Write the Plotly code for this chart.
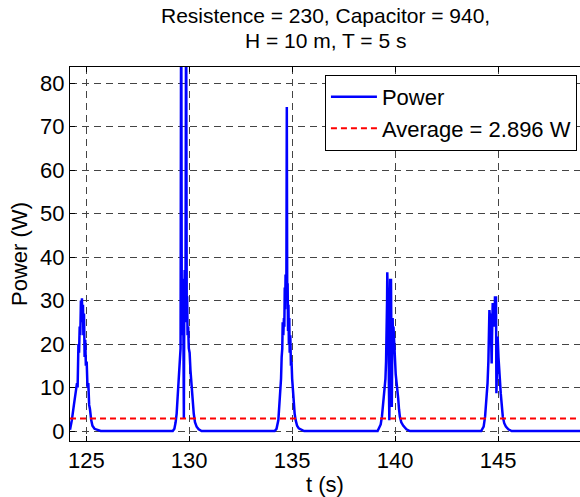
import plotly.graph_objects as go

# Pulse samples (time in s, power in W)
t_pulse1 = [124.21, 124.30, 124.40, 124.50, 124.55, 124.58, 124.62, 124.65, 124.68, 124.71,
            124.74, 124.77, 124.79, 124.81, 124.84, 124.86, 124.89, 124.92, 124.95, 124.98,
            125.02, 125.06, 125.10, 125.14, 125.18, 125.24, 125.30, 125.40, 125.55, 125.70]
p_pulse1 = [0.3, 2.5, 6, 9, 11, 10, 20, 18, 24, 22,
            30, 27, 30.5, 25, 29, 22, 27, 17, 21, 15,
            16, 10, 11, 6, 5, 2.5, 1.2, 0.5, 0.2, 0]

t_pulse2 = [129.20, 129.28, 129.34, 129.39, 129.44, 129.47, 129.50, 129.52, 129.55, 129.58,
            129.61, 129.64, 129.66, 129.68, 129.70, 129.72, 129.74, 129.76, 129.78, 129.80,
            129.82, 129.85, 129.88, 129.90, 129.92, 129.95, 129.98, 130.02, 130.06, 130.10,
            130.14, 130.18, 130.22, 130.28, 130.36, 130.46, 130.60]
p_pulse2 = [0, 0.5, 2, 4, 8, 11, 12, 14, 17, 19,
            110, 22, 30, 24, 35, 21, 3, 28, 37, 25,
            33, 105, 26, 31, 22, 24, 19, 18, 14, 11,
            8, 6, 4, 2, 1, 0.4, 0]

t_pulse3 = [134.15, 134.24, 134.33, 134.38, 134.42, 134.46, 134.49, 134.52, 134.54, 134.57,
            134.60, 134.62, 134.64, 134.66, 134.68, 134.70, 134.72, 134.74, 134.76, 134.78,
            134.80, 134.82, 134.84, 134.86, 134.88, 134.91, 134.94, 134.97, 135.00, 135.04,
            135.08, 135.12, 135.17, 135.24, 135.32, 135.45, 135.58]
p_pulse3 = [0, 0.5, 2.5, 6, 9.5, 12, 17, 19, 25, 22,
            26, 24, 33, 28, 36, 31, 36, 74.5, 30, 34,
            23, 29, 20, 26, 18, 22, 15, 16, 12, 9,
            7, 4, 2.5, 1.2, 0.6, 0.2, 0]

t_pulse4 = [139.15, 139.30, 139.36, 139.43, 139.49, 139.53, 139.56, 139.58, 139.59, 139.61,
            139.62, 139.64, 139.66, 139.68, 139.70, 139.72, 139.74, 139.76, 139.78, 139.80,
            139.82, 139.84, 139.86, 139.88, 139.90, 139.92, 139.95, 139.99, 140.03, 140.07,
            140.11, 140.15, 140.19, 140.23, 140.30, 140.40, 140.55, 140.72]
p_pulse4 = [0, 1.5, 3.3, 7, 10, 12, 16, 20, 25, 30,
            36.5, 33, 28, 22, 10, 2.5, 20, 35, 30, 35,
            15, 5.5, 18, 26, 20, 24, 18, 17, 13, 11.5,
            9, 7.5, 5, 3.3, 2, 1.2, 0.4, 0]

t_pulse5 = [144.18, 144.30, 144.37, 144.42, 144.45, 144.49, 144.53, 144.56, 144.58, 144.61,
            144.64, 144.67, 144.69, 144.71, 144.74, 144.77, 144.80, 144.83, 144.85, 144.88,
            144.90, 144.92, 144.95, 144.98, 145.02, 145.06, 145.10, 145.13, 145.18, 145.23,
            145.30, 145.38, 145.50, 145.66, 148.98]
p_pulse5 = [0, 1, 3.3, 6, 8.7, 11, 16, 22, 27.8, 26,
            27, 20, 15.5, 22, 29.4, 25, 28, 24, 31, 27,
            31, 8.7, 16, 21.7, 17, 14.8, 11, 8.7, 5.5, 3.3,
            1.8, 1, 0.4, 0, 0]

average_power = 2.896
x_range = [124.21, 148.98]
y_range = [-2.3, 83.7]
x_ticks = [125, 130, 135, 140, 145]
y_ticks = [0, 10, 20, 30, 40, 50, 60, 70, 80]
title_lines = ["Resistence = 230, Capacitor = 940,", "H = 10 m, T = 5 s"]

t_all = t_pulse1 + t_pulse2 + t_pulse3 + t_pulse4 + t_pulse5
p_all = p_pulse1 + p_pulse2 + p_pulse3 + p_pulse4 + p_pulse5

FONT = "Liberation Sans, Arial, sans-serif"
FS = 22
TFS = 21

fig = go.Figure()
fig.add_trace(go.Scatter(x=t_all, y=p_all, mode="lines", name="Power",
                         line=dict(color="#0000ff", width=2.5)))
fig.add_trace(go.Scatter(x=x_range, y=[average_power, average_power], mode="lines",
                         name="Average = %.3f W" % average_power,
                         line=dict(color="#ff0000", width=2, dash="6px,4px")))

fig.update_layout(
    width=580, height=497,
    margin=dict(l=70, r=0, t=67, b=56),
    paper_bgcolor="white", plot_bgcolor="white",
    font=dict(family=FONT, size=FS, color="black"),
    showlegend=True,
    legend=dict(x=0.994, xanchor="right", y=0.979, yanchor="top",
                bgcolor="white", bordercolor="black", borderwidth=1,
                itemwidth=46,
                font=dict(family=FONT, size=FS, color="black")),
    annotations=[
        dict(text=title_lines[0], xref="paper", yref="paper", x=0.5, y=(441 - 15.5) / 374,
             xanchor="center", yanchor="middle", showarrow=False,
             font=dict(family=FONT, size=TFS, color="black")),
        dict(text=title_lines[1], xref="paper", yref="paper", x=0.5, y=(441 - 40.5) / 374,
             xanchor="center", yanchor="middle", showarrow=False,
             font=dict(family=FONT, size=TFS, color="black")),
    ],
)

fig.update_xaxes(range=x_range, tickvals=x_ticks, ticks="inside", ticklen=5,
                 tickcolor="black", showline=True, linecolor="black", linewidth=1,
                 mirror="ticks", showgrid=True, gridcolor="#444444", griddash="7px,5px",
                 gridwidth=1, zeroline=False,
                 title=dict(text="t (s)", standoff=4,
                            font=dict(family=FONT, size=FS, color="black")))
fig.update_yaxes(range=y_range, tickvals=y_ticks, ticks="inside", ticklen=5,
                 tickcolor="black", showline=True, linecolor="black", linewidth=1,
                 mirror=False, showgrid=True, gridcolor="#444444", griddash="7px,5px",
                 gridwidth=1, zeroline=False,
                 title=dict(text="Power (W)", standoff=6,
                            font=dict(family=FONT, size=FS, color="black")))

fig.write_html("out.html")
